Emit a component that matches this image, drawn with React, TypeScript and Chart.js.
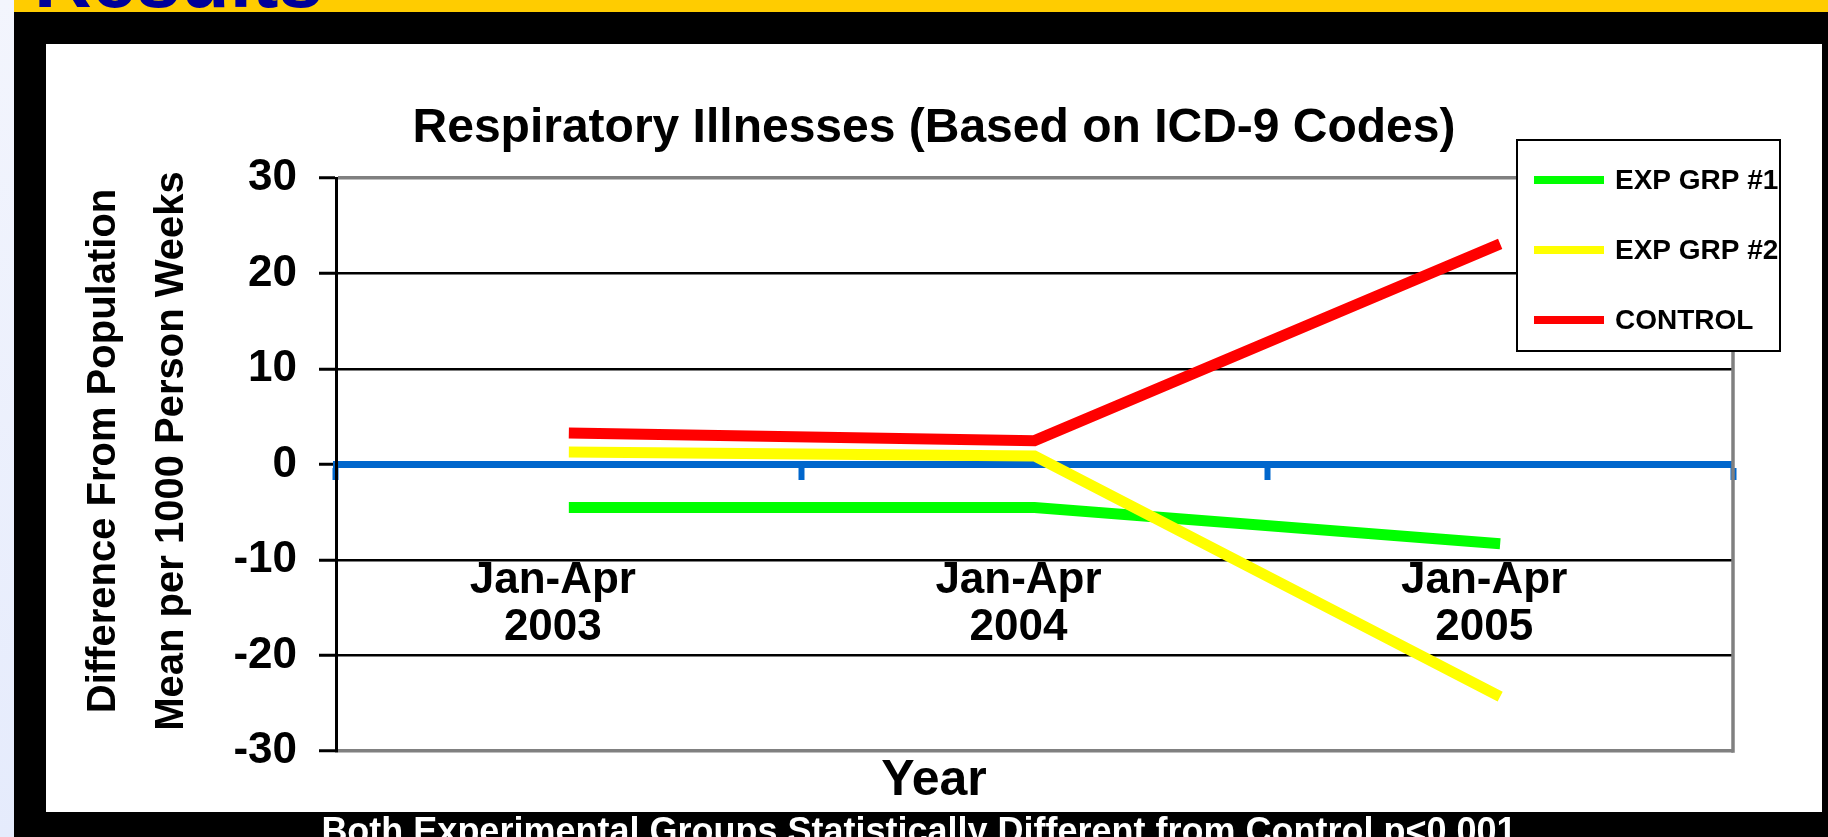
import React, { useEffect, useRef } from "react";
import { Chart, registerables } from "chart.js";

Chart.register(...registerables);

// ---------- data ----------
const categories: string[][] = [
  ["Jan-Apr", "2003"],
  ["Jan-Apr", "2004"],
  ["Jan-Apr", "2005"],
];
const seriesNames = ["EXP GRP #1", "EXP GRP #2", "CONTROL"];
const expGrp1 = [-4.5, -4.5, -8.3];
const expGrp2 = [1.3, 0.9, -24.3];
const control = [3.3, 2.5, 23.1];
const yTickValues = [-30, -20, -10, 0, 10, 20, 30];

const chartTitle = "Respiratory Illnesses (Based on ICD-9 Codes)";
const yAxisTitle = ["Difference From Population", "Mean per 1000 Person Weeks"];
const xAxisTitle = "Year";
const slideHeading = "Results";
const footnote = "Both Experimental Groups Statistically Different from Control p<0.001";

// ---------- styles ----------
const FONT = "'Liberation Sans', Arial, Helvetica, sans-serif";
const seriesColors = ["#00ff00", "#ffff00", "#ff0000"];
const seriesOrder = [1, 0, 2];
const AXIS_BLUE = "#0066cc";

const overlayPlugin = {
  id: "overlay",
  beforeDatasetsDraw(chart: any) {
    const { ctx, chartArea } = chart;
    ctx.save();
    // right border of the plot area
    ctx.strokeStyle = "#808080";
    ctx.lineWidth = 3.5;
    ctx.beginPath();
    ctx.moveTo(chartArea.right, chartArea.top - 1.75);
    ctx.lineTo(chartArea.right, chartArea.bottom + 1.75);
    ctx.stroke();
    // y axis title (two rotated lines)
    ctx.fillStyle = "#000000";
    ctx.font = `bold 40px ${FONT}`;
    ctx.textAlign = "center";
    ctx.textBaseline = "middle";
    const cy = (chartArea.top + chartArea.bottom) / 2 - 13.5;
    yAxisTitle.forEach((line, i) => {
      ctx.save();
      ctx.translate(chartArea.left - 232 + i * 68, cy);
      ctx.rotate(-Math.PI / 2);
      ctx.fillText(line, 0, 0);
      ctx.restore();
    });
    ctx.restore();
  },
  afterDraw(chart: any) {
    const { ctx, chartArea } = chart;
    const boxLeft = chartArea.right - 216;
    const boxTop = chartArea.top - 38;
    const boxW = 263;
    const boxH = 211;
    ctx.save();
    ctx.fillStyle = "#ffffff";
    ctx.fillRect(boxLeft, boxTop, boxW, boxH);
    ctx.strokeStyle = "#000000";
    ctx.lineWidth = 2;
    ctx.strokeRect(boxLeft, boxTop, boxW, boxH);
    chart.data.datasets.forEach((ds: any, i: number) => {
      const y = boxTop + 40 + i * 70;
      ctx.strokeStyle = ds.borderColor;
      ctx.lineWidth = 8;
      ctx.lineCap = "butt";
      ctx.beginPath();
      ctx.moveTo(boxLeft + 17, y);
      ctx.lineTo(boxLeft + 87, y);
      ctx.stroke();
      ctx.fillStyle = "#000000";
      ctx.font = `bold 28px ${FONT}`;
      ctx.textBaseline = "middle";
      ctx.textAlign = "left";
      ctx.fillText(ds.label, boxLeft + 98, y + 1);
    });
    ctx.restore();
  },
};

export default function App() {
  const canvasRef = useRef<HTMLCanvasElement>(null);

  useEffect(() => {
    const canvas = canvasRef.current;
    if (!canvas) return;
    Chart.defaults.font.family = FONT;
    Chart.defaults.color = "#000000";

    const seriesData = [expGrp1, expGrp2, control];

    const chart = new Chart(canvas, {
      type: "line",
      data: {
        labels: categories,
        datasets: seriesNames.map((name, i) => ({
          label: name,
          data: seriesData[i],
          borderColor: seriesColors[i],
          backgroundColor: seriesColors[i],
          borderWidth: 11,
          borderCapStyle: "butt",
          borderJoinStyle: "miter",
          pointRadius: 0,
          pointHoverRadius: 0,
          tension: 0,
          fill: false,
          order: seriesOrder[i],
          yAxisID: "y",
          xAxisID: "x",
        })),
      },
      options: {
        responsive: false,
        animation: false,
        devicePixelRatio: 1,
        layout: { padding: 0 },
        plugins: {
          legend: { display: false },
          tooltip: { enabled: false },
          title: {
            display: true,
            text: chartTitle,
            color: "#000000",
            font: { size: 48, weight: "bold", family: FONT },
            padding: { top: 55.7, bottom: 20.7 },
          },
          subtitle: {
            display: true,
            position: "bottom",
            text: xAxisTitle,
            color: "#000000",
            font: { size: 50, weight: "bold", family: FONT, lineHeight: 1 },
            padding: { top: 5.5, bottom: 5.5 },
          },
        },
        scales: {
          x: {
            type: "category",
            position: { y: 0 },
            offset: true,
            grid: {
              display: true,
              offset: true,
              drawOnChartArea: false,
              drawTicks: true,
              tickLength: 12,
              tickWidth: 6,
              tickColor: AXIS_BLUE,
              color: AXIS_BLUE,
            },
            border: { display: true, color: AXIS_BLUE, width: 7 },
            ticks: {
              color: "#000000",
              font: { size: 44, weight: "bold", family: FONT, lineHeight: 47 / 44 },
              padding: 81,
              labelOffset: -16,
              autoSkip: false,
              maxRotation: 0,
              minRotation: 0,
            },
          },
          y: {
            type: "linear",
            position: "left",
            min: -30,
            max: 30,
            afterBuildTicks: (scale: any) => {
              scale.ticks = yTickValues.map((v) => ({ value: v }));
            },
            afterFit: (scale: any) => {
              scale.width = 290;
            },
            grid: {
              display: true,
              drawTicks: true,
              tickLength: 17,
              tickWidth: 3,
              tickColor: "#000000",
              color: (c: any) => {
                const v = c.tick ? c.tick.value : null;
                if (v === 30 || v === -30) return "#808080";
                if (v === 0) return "rgba(0,0,0,0)";
                return "#000000";
              },
              lineWidth: (c: any) => {
                const v = c.tick ? c.tick.value : null;
                return v === 30 || v === -30 ? 3.5 : 2.5;
              },
            },
            border: { display: true, color: "#000000", width: 3 },
            ticks: {
              color: "#000000",
              font: { size: 44, weight: "bold", family: FONT },
              padding: 22,
              callback: (v: any) => String(v),
            },
            title: { display: false },
          },
          yRight: {
            type: "linear",
            position: "right",
            display: true,
            grid: { display: false, drawTicks: false },
            border: { display: false },
            ticks: { display: false },
            afterFit: (scale: any) => {
              scale.width = 89;
            },
          },
        },
      } as any,
      plugins: [overlayPlugin],
    } as any);

    return () => {
      chart.destroy();
    };
  }, []);

  return (
    <div
      style={{
        position: "absolute",
        left: 0,
        top: 0,
        width: 1828,
        height: 837,
        overflow: "hidden",
        background: "#000000",
        fontFamily: FONT,
      }}
    >
      <div
        style={{
          position: "absolute",
          left: 0,
          top: 0,
          width: 14,
          height: 837,
          background: "linear-gradient(#f3f5fd, #e5ebfc)",
        }}
      />
      <div
        style={{
          position: "absolute",
          left: 14,
          top: 0,
          width: 1814,
          height: 12,
          background: "#ffcc00",
          overflow: "hidden",
        }}
      >
        <div
          style={{
            position: "absolute",
            left: 20,
            top: -60,
            fontSize: 80,
            lineHeight: "80px",
            fontWeight: "bold",
            color: "#000099",
            whiteSpace: "nowrap",
          }}
        >
          {slideHeading}
        </div>
      </div>
      <div
        style={{
          position: "absolute",
          left: 46,
          top: 44,
          width: 1776,
          height: 768,
          background: "#ffffff",
        }}
      >
        <canvas
          ref={canvasRef}
          width={1776}
          height={768}
          style={{ display: "block", width: "1776px", height: "768px" }}
        />
      </div>
      <div
        style={{
          position: "absolute",
          left: 0,
          top: 813,
          width: 1838,
          textAlign: "center",
          color: "#ffffff",
          fontSize: 36,
          lineHeight: "36px",
          fontWeight: "bold",
          whiteSpace: "nowrap",
        }}
      >
        {footnote}
      </div>
    </div>
  );
}
